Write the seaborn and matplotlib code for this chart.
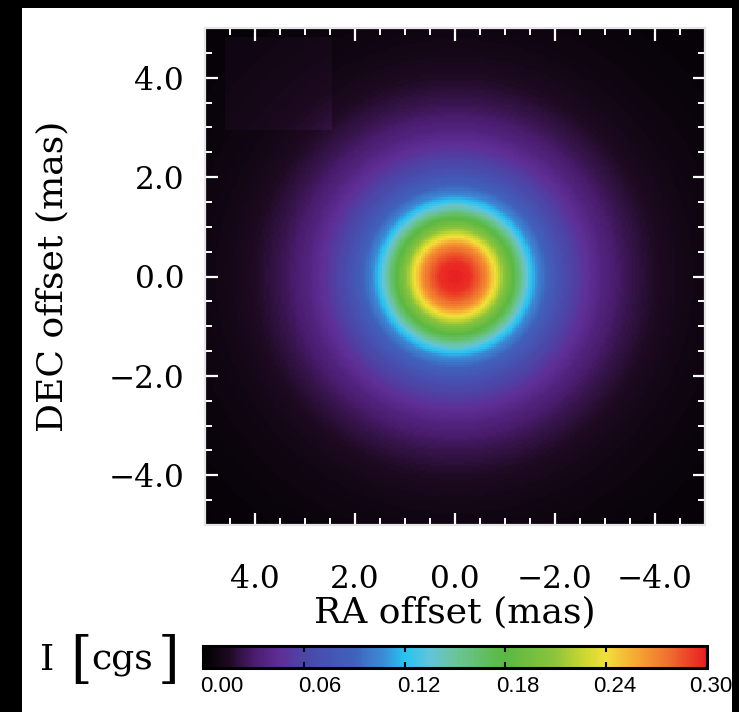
import numpy as np
import pandas as pd
import matplotlib
matplotlib.use("Agg")
import matplotlib.pyplot as plt
import seaborn as sns
from matplotlib.colors import LinearSegmentedColormap
from matplotlib.patches import Rectangle
from matplotlib.transforms import ScaledTranslation

# ---------------- data ----------------
# radial intensity profile (I in cgs) vs radius (mas)
radius_mas = [0.0, 0.3, 0.5, 0.65, 0.8, 1.0, 1.2, 1.35, 1.5, 1.65, 1.9,
              2.2, 2.6, 3.0, 3.5, 4.0, 4.5, 5.0, 6.0, 7.1]
intensity = [0.300, 0.295, 0.280, 0.265, 0.240, 0.205, 0.175, 0.150, 0.125,
             0.105, 0.085, 0.065, 0.048, 0.035, 0.024, 0.016, 0.011, 0.008,
             0.005, 0.003]
# faint rectangular artefact in the upper-left corner (RA range, DEC range, extra I)
patch_ra = [2.45, 4.6]
patch_dec = [2.95, 4.8]
patch_extra = 0.004

ra_ticks = [4.0, 2.0, 0.0, -2.0, -4.0]
dec_ticks = [4.0, 2.0, 0.0, -2.0, -4.0]
ra_labels = ["4.0", "2.0", "0.0", "\u22122.0", "\u22124.0"]
dec_labels = ["4.0", "2.0", "0.0", "\u22122.0", "\u22124.0"]
cbar_ticks = [0.00, 0.06, 0.12, 0.18, 0.24, 0.30]
cbar_labels = ["0.00", "0.06", "0.12", "0.18", "0.24", "0.30"]

# colour table (fraction of range, colour)
cmap_pos = [0.00, 0.05, 0.10, 0.15, 0.20, 0.30, 0.36, 0.40, 0.45, 0.50,
            0.57, 0.60, 0.70, 0.76, 0.80, 0.87, 0.93, 1.00]
cmap_col = ["#000000", "#1e0a22", "#4a1c6e", "#5e2e96", "#4c46a8", "#3f62bc",
            "#3a8ed8", "#27c4f0", "#62c4dc", "#6cc49a", "#5fbd55", "#5ab844",
            "#8cc43c", "#d0d830", "#f2e03a", "#f5a032", "#ef6a2e", "#e81e22"]

# ---------------- build the map ----------------
half = 5.0
N = 220
step = 2 * half / N
ra_c = half - (np.arange(N) + 0.5) * step      # RA decreases to the right
dec_c = half - (np.arange(N) + 0.5) * step     # DEC decreases downward
RA, DEC = np.meshgrid(ra_c, dec_c)
R = np.hypot(RA, DEC)
img = np.interp(R, radius_mas, intensity)
mask = (RA >= patch_ra[0]) & (RA <= patch_ra[1]) & (DEC >= patch_dec[0]) & (DEC <= patch_dec[1])
img = img + mask * patch_extra
df = pd.DataFrame(img, index=np.round(dec_c, 3), columns=np.round(ra_c, 3))

cmap = LinearSegmentedColormap.from_list("idl", list(zip(cmap_pos, cmap_col)))

# ---------------- figure ----------------
W, H = 739, 712
fig = plt.figure(figsize=(W / 100, H / 100), dpi=100, facecolor="black")
plt.rcParams["font.family"] = ["DejaVu Serif"]
fig.patches.append(Rectangle((22 / W, 0), (732 - 22) / W, (H - 8) / H,
                             transform=fig.transFigure, facecolor="white",
                             edgecolor="none", zorder=-10))

ax = fig.add_axes([205 / W, 1 - 525 / H, 500 / W, 497 / H])
sns.heatmap(df, ax=ax, cmap=cmap, vmin=0, vmax=0.30, cbar=False,
            xticklabels=False, yticklabels=False, rasterized=True)

def to_idx(v):
    return (half - np.asarray(v)) / step

minor_vals = [v for v in np.arange(-5.0, 5.01, 0.5) if abs(v % 2.0) > 1e-9]
ax.set_xticks(to_idx(ra_ticks))
ax.set_xticklabels(ra_labels, fontsize=22.5)
ax.set_yticks(to_idx(dec_ticks))
ax.set_yticklabels(dec_labels, fontsize=22.5, rotation=0)
ax.set_xticks(to_idx(minor_vals), minor=True)
ax.set_yticks(to_idx(minor_vals), minor=True)
ax.set_xlim(0, N)
ax.set_ylim(N, 0)
for s in ax.spines.values():
    s.set_visible(True)
    s.set_color("#e6e6e6")
    s.set_linewidth(1.6)
ax.tick_params(which="both", direction="in", top=True, right=True,
               bottom=True, left=True, color="white", labelcolor="black")
ax.tick_params(which="major", length=9, width=1.6)
ax.tick_params(which="minor", length=5, width=1.4)
ax.tick_params(axis="x", which="major", pad=28)
ax.tick_params(axis="y", which="major", pad=15)

ax.set_xlabel("RA offset (mas)", fontsize=26, color="black")
ax.set_ylabel("DEC offset (mas)", fontsize=26, color="black")
ax.xaxis.label.set_va("center")
ax.yaxis.label.set_va("center")
ax.xaxis.set_label_coords(0.5, (525 - 612) / 497)
ax.yaxis.set_label_coords((52 - 205) / 500, 0.5)

# ---------------- colour bar ----------------
cax = fig.add_axes([203 / W, 1 - 668 / H, 504 / W, 22 / H])
cb = fig.colorbar(ax.collections[0], cax=cax, orientation="horizontal")
cb.set_ticks(cbar_ticks)
cb.set_ticklabels(cbar_labels)
cb.outline.set_edgecolor("black")
cb.outline.set_linewidth(2.2)
cax.minorticks_off()
cax.tick_params(direction="in", length=4, width=1.5, color="black",
                top=True, bottom=True, pad=6)
shift_px = [19, 16, 14, 12, 9, 4]
for lab, sh in zip(cax.get_xticklabels(), shift_px):
    lab.set_fontfamily("Liberation Sans")
    lab.set_fontsize(16)
    lab.set_transform(lab.get_transform() + ScaledTranslation(sh / 100, 0, fig.dpi_scale_trans))

# "I [cgs]" title
fig.text(40 / W, 1 - 660 / H, "I", fontsize=26, va="center", ha="left")
fig.text(70 / W, 1 - 662 / H, "[", fontsize=40, va="center", ha="left")
fig.text(91 / W, 1 - 660 / H, "cgs", fontsize=26, va="center", ha="left")
fig.text(158 / W, 1 - 662 / H, "]", fontsize=40, va="center", ha="left")

fig.savefig("out.png", dpi=100, facecolor="black")
